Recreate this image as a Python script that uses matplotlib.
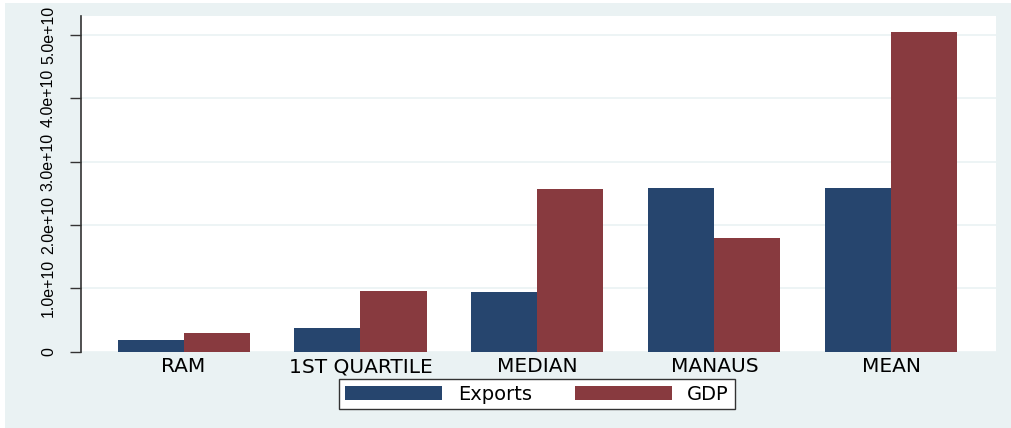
import numpy as np
import matplotlib.pyplot as plt
from matplotlib.patches import Rectangle

categories = ["RAM", "1ST QUARTILE", "MEDIAN", "MANAUS", "MEAN"]
exports = [0.19e10, 0.38e10, 0.95e10, 2.59e10, 2.59e10]
gdp = [0.30e10, 0.96e10, 2.57e10, 1.80e10, 5.05e10]
yticks = [0, 1e10, 2e10, 3e10, 4e10, 5e10]
ytick_labels = ["0", "1.0e+10", "2.0e+10", "3.0e+10", "4.0e+10", "5.0e+10"]

bg = "#eaf2f3"
navy = "#26456e"
maroon = "#883a3f"

fig = plt.figure(figsize=(10.11, 4.28), dpi=100, facecolor="white")
fig.patches.append(Rectangle((5 / 1011, 0), 1, 1 - 3 / 428, transform=fig.transFigure,
                             facecolor=bg, edgecolor="none", zorder=-10))
ax = fig.add_axes([0.080, 0.178, 0.905, 0.785])
ax.set_facecolor("white")

x = np.arange(len(categories))
w = 0.373
ax.bar(x - w / 2, exports, width=w, color=navy, zorder=3)
ax.bar(x + w / 2, gdp, width=w, color=maroon, zorder=3)

ax.set_xlim(-0.58, 4.59)
ax.set_ylim(0, 5.3e10)
ax.set_yticks(yticks)
ax.set_yticklabels(ytick_labels, rotation=90, va="center",
                   family="Liberation Sans", fontsize=11.5)
ax.set_xticks(x)
ax.set_xticklabels(categories, family="DejaVu Sans", fontsize=14.5)
ax.tick_params(axis="x", length=0, pad=4)
ax.tick_params(axis="y", length=8, width=1, color="#333333", pad=10)
ax.grid(axis="y", color=bg, linewidth=1.2, zorder=0)

for s in ["top", "right", "bottom"]:
    ax.spines[s].set_visible(False)
ax.spines["left"].set_color("#333333")
ax.spines["left"].set_linewidth(1.2)

leg = fig.legend(["Exports", "GDP"], loc="center", bbox_to_anchor=(537 / 1011, 1 - 394 / 428),
                 ncol=2, frameon=True, fancybox=False, edgecolor="#333333",
                 prop={"family": "DejaVu Sans", "size": 14},
                 handlelength=5.0, handleheight=0.75, columnspacing=2.2, handletextpad=0.8,
                 borderpad=0.3, borderaxespad=0)
leg.get_frame().set_linewidth(1.0)
leg.get_frame().set_alpha(1)

fig.savefig("out.png", dpi=100, facecolor=fig.get_facecolor())
